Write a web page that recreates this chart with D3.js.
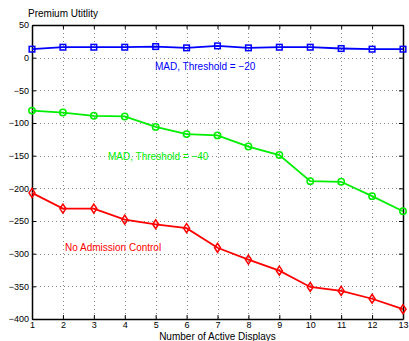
<!DOCTYPE html>
<html>
<head>
<meta charset="utf-8">
<script src="https://cdn.jsdelivr.net/npm/d3@7"></script>
<style>
    body { margin: 0; background: #fff; }
    text { font-family: "Liberation Sans", Arial, sans-serif; }
</style>
</head>
<body>
<div id="chart"></div>
<script>
// Data
const displays = [1, 2, 3, 4, 5, 6, 7, 8, 9, 10, 11, 12, 13];
const mad20 = [13, 16, 16, 16, 17, 15, 18, 15, 16, 16, 14, 13, 13];
const mad40 = [-81, -84, -89, -90, -106, -117, -119, -136, -149, -189, -190, -212, -235];
const noAdmission = [-207, -231, -231, -248, -255, -261, -291, -309, -326, -351, -357, -369, -385];
const yTicks = [50, 0, -50, -100, -150, -200, -250, -300, -350, -400];

const width = 409, height = 341;
const margin = [25, 22, 32, 6]; // top, bottom, left, right

const svg = d3.select('#chart').append('svg')
    .attr('width', width)
    .attr('height', height);

const x = d3.scaleLinear().domain([1, 13]).range([margin[2], width - margin[3]]);
const y = d3.scaleLinear().domain([-400, 50]).range([height - margin[1], margin[0]]);

const fmt = d => d < 0 ? '\u2212' + Math.abs(d) : String(d);

// Grid
const grid = svg.append('g').attr('stroke', '#888').attr('stroke-dasharray', '1,3').attr('stroke-width', 1);
grid.selectAll('.gx').data(displays.slice(1, -1)).join('line')
    .attr('x1', d => Math.round(x(d)) + 0.5).attr('x2', d => Math.round(x(d)) + 0.5)
    .attr('y1', y(50)).attr('y2', y(-400));
grid.selectAll('.gy').data(yTicks.slice(1, -1)).join('line')
    .attr('y1', d => Math.round(y(d)) + 0.5).attr('y2', d => Math.round(y(d)) + 0.5)
    .attr('x1', x(1)).attr('x2', x(13));

// Axes (ticks inward, MATLAB style)
const axisBottom = d3.axisBottom(x).tickValues(displays).tickSizeInner(-4).tickSizeOuter(0).tickPadding(3);
const axisLeft = d3.axisLeft(y).tickValues(yTicks).tickFormat(fmt).tickSizeInner(-4).tickSizeOuter(0).tickPadding(3);
const axisTop = d3.axisTop(x).tickValues(displays).tickSizeInner(-4).tickSizeOuter(0).tickFormat('');
const axisRight = d3.axisRight(y).tickValues(yTicks).tickSizeInner(-4).tickSizeOuter(0).tickFormat('');

svg.append('g').attr('transform', `translate(0, ${y(-400)})`).call(axisBottom);
svg.append('g').attr('transform', `translate(${x(1)}, 0)`).call(axisLeft);
svg.append('g').attr('transform', `translate(0, ${y(50)})`).call(axisTop);
svg.append('g').attr('transform', `translate(${x(13)}, 0)`).call(axisRight);

svg.selectAll('.domain').attr('stroke', '#000').attr('stroke-width', 1.5);
svg.selectAll('.tick line').attr('stroke', '#000');
svg.selectAll('.tick text').attr('fill', '#000').style('font-size', '9px');

// Series
const series = [
    { values: mad20, color: '#0000ff', marker: 'square' },
    { values: mad40, color: '#00ee00', marker: 'circle' },
    { values: noAdmission, color: '#ff0000', marker: 'diamond' }
];

const line = d3.line().x((d, i) => x(displays[i])).y(d => y(d));

series.forEach(s => {
    svg.append('path')
        .datum(s.values)
        .attr('fill', 'none')
        .attr('stroke', s.color)
        .attr('stroke-width', 1.8)
        .attr('d', line);

    const g = svg.append('g').attr('fill', 'none').attr('stroke', s.color).attr('stroke-width', 1.5);
    if (s.marker === 'square') {
        g.selectAll('rect').data(s.values).join('rect')
            .attr('x', (d, i) => x(displays[i]) - 2.8).attr('y', d => y(d) - 2.8)
            .attr('width', 5.6).attr('height', 5.6);
    } else if (s.marker === 'circle') {
        g.selectAll('circle').data(s.values).join('circle')
            .attr('cx', (d, i) => x(displays[i])).attr('cy', d => y(d)).attr('r', 3.2);
    } else {
        g.selectAll('path').data(s.values).join('path')
            .attr('d', (d, i) => {
                const cx = x(displays[i]), cy = y(d);
                return `M${cx},${cy - 4.5}L${cx + 3},${cy}L${cx},${cy + 4.5}L${cx - 3},${cy}Z`;
            });
    }
});

// Labels
svg.append('text').attr('x', 28).attr('y', 16.5).style('font-size', '10px').text('Premium Utitlity');
svg.append('text').attr('x', x(7)).attr('y', 339.5).attr('text-anchor', 'middle')
    .style('font-size', '10px').text('Number of Active Displays');
svg.append('text').attr('x', 155).attr('y', 69.5).attr('fill', '#0000ff').style('font-size', '10px')
    .text('MAD, Threshold = \u221220');
svg.append('text').attr('x', 108).attr('y', 159.5).attr('fill', '#00ee00').style('font-size', '10px')
    .text('MAD, Threshold = \u221240');
svg.append('text').attr('x', 65).attr('y', 250.5).attr('fill', '#ff0000').style('font-size', '10px')
    .text('No Admission Control');
</script>
</body>
</html>
